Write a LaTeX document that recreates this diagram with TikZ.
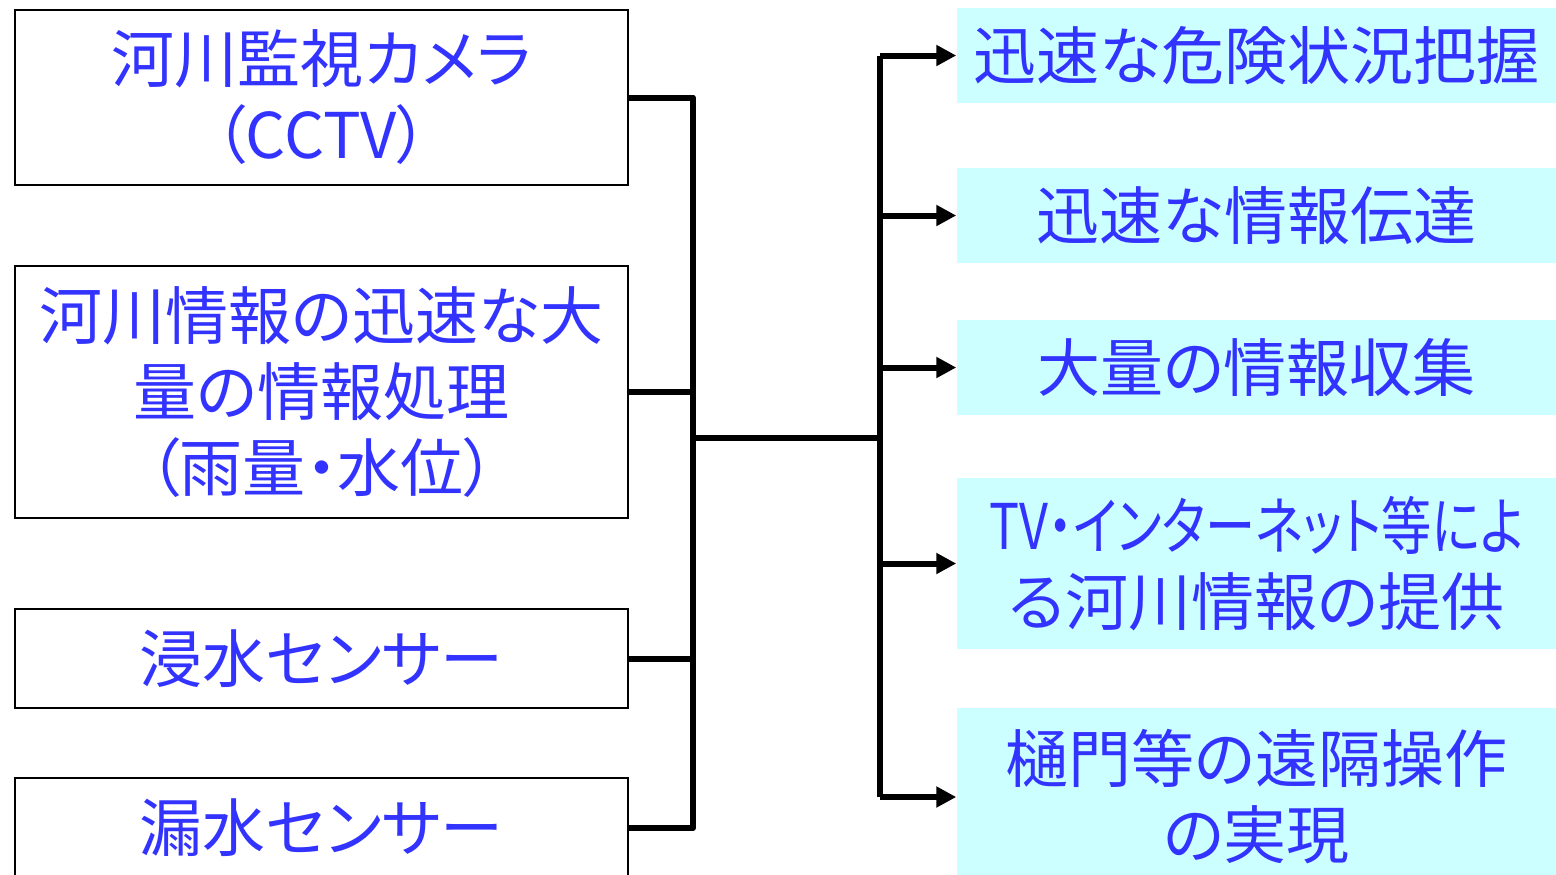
\documentclass[tikz,border=0pt]{standalone}
\usepackage{graphicx}
\usepackage{fontspec}
\setmainfont{Noto Sans CJK JP}[RawFeature={+palt}]
\usetikzlibrary{arrows.meta}

\definecolor{txtblue}{RGB}{51,51,255}
\definecolor{boxcyan}{RGB}{204,255,255}

\tikzset{every picture/.style={line width=0.75pt}}
\tikzset{
  srcbox/.style={draw=black, line width=1pt, fill=white, minimum width=306.5pt, inner sep=0pt, align=center, text=txtblue, font=\fontsize{31.5}{38}\selectfont},
  effbox/.style={fill=boxcyan, minimum width=299.5pt, inner sep=0pt, align=center, text=txtblue, font=\fontsize{31.5}{38}\selectfont},
  conn/.style={line width=3pt, line join=round},
  connarrow/.style={line width=3pt, -{Triangle[length=10pt,width=10pt]}}
}

\begin{document}
\begin{tikzpicture}[x=0.5pt,y=0.5pt,yscale=-1,xscale=1]
\useasboundingbox (0,0) rectangle (1556,874);

%Shape: Rectangle [source boxes]
\node [srcbox, minimum height=87.5pt] (cctv) at (321.5,97.5) {河川監視カメラ\\（CCTV）};
\node [srcbox, minimum height=126pt] (rain) at (321.5,392) {河川情報の迅速な大\\量の情報処理\\（雨量・水位）};
\node [srcbox, minimum height=49.5pt] (flood) at (321.5,658.5) {浸水センサー};
\node [srcbox, minimum height=50pt] (leak) at (321.5,828) {漏水センサー};

%Shape: Rectangle [effect boxes]
\node [effbox, minimum height=47.5pt] (grasp) at (1256.5,55.5) {迅速な危険状況把握};
\node [effbox, minimum height=47.5pt] (convey) at (1256.5,215.5) {迅速な情報伝達};
\node [effbox, minimum height=47.5pt] (collect) at (1256.5,367.5) {大量の情報収集};
\node [effbox, minimum height=85.5pt] (provide) at (1256.5,563.5) {\resizebox{267.5pt}{\height}{TV・インターネット等によ}\\る河川情報の提供};
\node [effbox, minimum height=89pt] (remote) at (1256.5,797) {樋門等の遠隔操作\\の実現};

% Junctions
\coordinate (hubL) at (693,438);
\coordinate (hubR) at (880,438);

% Connection
\draw [conn] (cctv.east) -- (cctv.east -| hubL) -- (leak.east -| hubL) -- (leak.east);
\draw [conn] (rain.east) -- (rain.east -| hubL);
\draw [conn] (flood.east) -- (flood.east -| hubL);
\draw [conn] (hubL) -- (hubR);
\draw [conn] (grasp.west -| hubR) -- (remote.west -| hubR);
% Connection
\draw [connarrow] (grasp.west -| hubR) -- (grasp.west);
\draw [connarrow] (convey.west -| hubR) -- (convey.west);
\draw [connarrow] (collect.west -| hubR) -- (collect.west);
\draw [connarrow] (provide.west -| hubR) -- (provide.west);
\draw [connarrow] (remote.west -| hubR) -- (remote.west);

\end{tikzpicture}
\end{document}
